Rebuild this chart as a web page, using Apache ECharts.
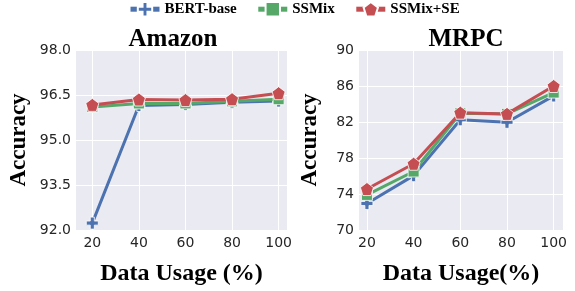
<!DOCTYPE html>
<html>
<head>
<meta charset="utf-8">
<script src="https://cdn.jsdelivr.net/npm/echarts@6/dist/echarts.min.js"></script>
<style>
  html, body { margin: 0; padding: 0; background: #fff; }
  #chart { width: 575px; height: 291px; }
</style>
</head>
<body>
<div id="chart"></div>
<script>
// data usage (%) on x
var usage = [20, 40, 60, 80, 100];
var seriesNames = ['BERT-base', 'SSMix', 'SSMix+SE'];

// Amazon accuracy
var amazonBert = [92.23, 96.15, 96.18, 96.26, 96.30];
var amazonSsmix = [96.10, 96.22, 96.22, 96.29, 96.36];
var amazonSe = [96.17, 96.35, 96.33, 96.36, 96.56];
var amazonTicks = [92.0, 93.5, 95.0, 96.5, 98.0];

// MRPC accuracy
var mrpcBert = [72.95, 76.04, 82.25, 81.97, 84.9];
var mrpcSsmix = [73.9, 76.5, 82.97, 82.9, 85.27];
var mrpcSe = [74.55, 77.36, 83.04, 82.9, 86.0];
var mrpcTicks = [70, 74, 78, 82, 86, 90];

var colors = ['#4C72B0', '#55A868', '#C44E52'];
var plusSym = 'path://M3.3,0h3.4v3.3h3.3v3.4h-3.3v3.3h-3.4v-3.3h-3.3v-3.4h3.3z';
var pentaSym = 'path://M50,0L97.6,34.5L79.4,90.5L20.6,90.5L2.4,34.5Z';
var symbols = [plusSym, 'rect', pentaSym];
var symSizes = [12, 11, 13];

var serifBold = { fontFamily: 'Liberation Serif', fontWeight: 'bold', color: '#000' };

function pairs(ys) {
  return usage.map(function (x, i) { return [x, ys[i]]; });
}

function makeSeries(idx, ys, gi) {
  return {
    name: seriesNames[idx],
    type: 'line',
    xAxisIndex: gi,
    yAxisIndex: gi,
    data: pairs(ys),
    z: 3 + idx,
    symbol: symbols[idx],
    symbolSize: symSizes[idx],
    showAllSymbol: true,
    lineStyle: { color: colors[idx], width: 3 },
    itemStyle: { color: colors[idx], borderColor: '#fff', borderWidth: 0.8 },
    emphasis: { disabled: true },
    animation: false
  };
}

function xAxis(gi, min, max, name) {
  return {
    type: 'value', gridIndex: gi, min: min, max: max,
    name: name, nameLocation: 'middle', nameGap: 32,
    nameTextStyle: Object.assign({ fontSize: 24 }, serifBold),
    axisLine: { show: false },
    axisTick: { show: false, customValues: usage },
    axisLabel: { customValues: usage, fontFamily: 'DejaVu Sans', fontSize: 14, color: '#262626', margin: 6 },
    splitLine: { show: true, lineStyle: { color: '#fff', width: 1 } }
  };
}

function yAxis(gi, ticks, digits, nameGap) {
  return {
    type: 'value', gridIndex: gi,
    min: ticks[0], max: ticks[ticks.length - 1], interval: ticks[1] - ticks[0],
    name: 'Accuracy', nameLocation: 'middle', nameGap: nameGap,
    nameTextStyle: Object.assign({ fontSize: 23 }, serifBold),
    axisLine: { show: false },
    axisTick: { show: false },
    axisLabel: {
      fontFamily: 'DejaVu Sans', fontSize: 14, color: '#262626', margin: 5,
      formatter: function (v) { return v.toFixed(digits); }
    },
    splitLine: { show: true, lineStyle: { color: '#fff', width: 1 } }
  };
}

var chart = echarts.init(document.getElementById('chart'), null, { renderer: 'canvas' });
chart.setOption({
  backgroundColor: '#fff',
  animation: false,
  title: [
    { text: 'Amazon', left: 168, top: 22, textAlign: 'center', textStyle: Object.assign({ fontSize: 25 }, serifBold) },
    { text: 'MRPC', left: 461, top: 22, textAlign: 'center', textStyle: Object.assign({ fontSize: 25 }, serifBold) }
  ],
  legend: {
    data: seriesNames,
    left: 128, top: 1, padding: 0,
    itemWidth: 29, itemHeight: 18, itemGap: 19,
    lineStyle: { width: 5 },
    textStyle: { fontFamily: 'Liberation Serif', fontWeight: 'bold', fontSize: 15, color: '#000' }
  },
  grid: [
    { left: 76, top: 50, width: 211, height: 188, show: true, backgroundColor: '#EAEAF2', borderWidth: 0 },
    { left: 359, top: 50, width: 204, height: 188, show: true, backgroundColor: '#EAEAF2', borderWidth: 0 }
  ],
  xAxis: [
    xAxis(0, 13.0, 103.6, 'Data Usage (%)'),
    xAxis(1, 16.6, 104.0, 'Data Usage(%)')
  ],
  yAxis: [
    yAxis(0, amazonTicks, 1, 45),
    yAxis(1, mrpcTicks, 0, 37)
  ],
  series: [
    makeSeries(0, amazonBert, 0),
    makeSeries(1, amazonSsmix, 0),
    makeSeries(2, amazonSe, 0),
    makeSeries(0, mrpcBert, 1),
    makeSeries(1, mrpcSsmix, 1),
    makeSeries(2, mrpcSe, 1)
  ]
});
</script>
</body>
</html>
